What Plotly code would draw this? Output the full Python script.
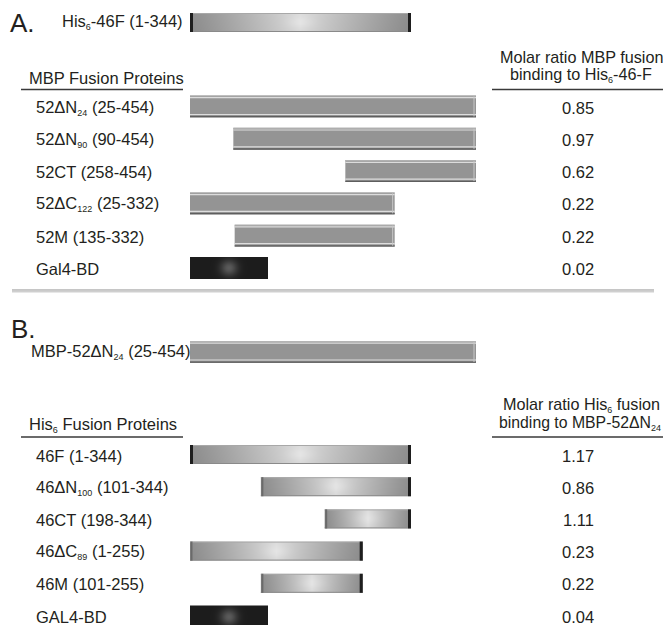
import numpy as np
import plotly.graph_objects as go

# ---------------- data ----------------
def sub(s):
    return f"<sub><span style='font-size:9px'>{s}</span></sub>"

# Panel A: bait and MBP fusion proteins (drawn on the 52 residue scale)
a_bait_label = f"His{sub('6')}-46F (1-344)"
a_bait_start, a_bait_end = 1, 344            # 46 residue scale

mbp_labels = [f"52ΔN{sub('24')} (25-454)", f"52ΔN{sub('90')} (90-454)", "52CT (258-454)",
              f"52ΔC{sub('122')} (25-332)", "52M (135-332)", "Gal4-BD"]
mbp_start = [25, 90, 258, 25, 92, 25]
mbp_end = [454, 454, 454, 332, 332, 142]
mbp_ratio = [0.85, 0.97, 0.62, 0.22, 0.22, 0.02]

# Panel B: bait and His6 fusion proteins (drawn on the 46 residue scale)
b_bait_label = f"MBP-52ΔN{sub('24')} (25-454)"
b_bait_start, b_bait_end = 25, 454           # 52 residue scale

his_labels = ["46F (1-344)", f"46ΔN{sub('100')} (101-344)", "46CT (198-344)",
              f"46ΔC{sub('89')} (1-255)", "46M (101-255)", "GAL4-BD"]
his_start = [1, 111, 210, 1, 111, 1]
his_end = [344, 344, 344, 269, 269, 122]
his_ratio = [1.17, 0.86, 1.11, 0.23, 0.22, 0.04]

a_left_header = "MBP Fusion Proteins"
a_right_header = ["Molar ratio MBP fusion", f"binding to His{sub('6')}-46-F"]
b_left_header = f"His{sub('6')} Fusion Proteins"
b_right_header = [f"Molar ratio His{sub('6')} fusion", f"binding to MBP-52ΔN{sub('24')}"]

# ---------------- layout helpers ----------------
PAGE_W, PAGE_H = 671, 625
OFF = 8                      # default body margin of the html page
W, H = PAGE_W - OFF, PAGE_H - OFF
FONT = "Liberation Sans, Arial, sans-serif"
TXT = "#231f20"
FS = 16.5

# 52 scale: residue 25 -> 190 px, 454 -> 476 px ; 46 scale: 1 -> 190 px, 344 -> 411 px (page px)
k52 = (476 - 190) / (454 - 25)
k46 = (411 - 190) / (344 - 1)
x52_range = [25 + (OFF - 190) / k52, 25 + (OFF + W - 190) / k52]
x46_range = [1 + (OFF - 190) / k46, 1 + (OFF + W - 190) / k46]

A_row0, A_step = 106.5, 32.3
B_row0, B_step = 454.5, 32.2
a_rows = [A_row0 + i * A_step for i in range(len(mbp_labels))]
b_rows = [B_row0 + i * B_step for i in range(len(his_labels))]

fig = go.Figure()
shapes = []
annotations = []


def px(x):
    return (x - OFF) / W


def text(s, xpx, ypx, size=FS, anchor="left"):
    annotations.append(dict(text=s, x=px(xpx), xref="paper", y=ypx, yref="y",
                            xanchor=anchor, yanchor="middle", showarrow=False,
                            font=dict(family=FONT, size=size, color=TXT)))


def hline(x0, x1, y, color, width, xref="paper"):
    shapes.append(dict(type="line", xref=xref, yref="y", x0=x0, x1=x1, y0=y, y1=y,
                       line=dict(color=color, width=width)))


def vline(x, y0, y1, color, width, xref):
    shapes.append(dict(type="line", xref=xref, yref="y", x0=x, x1=x, y0=y0, y1=y1,
                       line=dict(color=color, width=width)))


GRAY = [[0, "rgb(0,0,0)"], [1, "rgb(255,255,255)"]]


def gradient_bar(x0, x1, yc, h, axis, k, dark_left):
    w_px = (x1 - x0) * k
    nx = max(int(round(w_px)), 2)
    ny = int(round(h))
    xe = np.linspace(x0, x1, nx + 1)
    ye = np.linspace(yc - h / 2, yc + h / 2, ny + 1)
    tx = (np.arange(nx) + 0.5) / nx
    ty = (np.arange(ny) + 0.5) / ny
    TX, TY = np.meshgrid(tx, ty)
    z = 140 + 78 * (1 - np.abs(2 * TX - 1)) ** 1.1
    z = z + 10 * np.exp(-((TX - 0.5) * w_px / 14) ** 2 - ((TY - 0.5) * h / 6) ** 2)
    z = z - 4 * (TY - 0.5)
    fig.add_trace(go.Heatmap(x=xe, y=ye, z=z, xaxis=axis, yaxis="y", colorscale=GRAY,
                             zmin=0, zmax=255, showscale=False, hoverinfo="skip"))
    hline(x0, x1, yc - h / 2 + 0.5, "#a8a8a8", 1, xref=axis)
    hline(x0, x1, yc + h / 2 - 0.5, "#8a8a8a", 1, xref=axis)
    vline(x0 + 1.5 / k, yc - h / 2, yc + h / 2, "#1e1e1e" if dark_left else "#6a6a6a",
          3 if dark_left else 2, axis)
    vline(x1 - 1.5 / k, yc - h / 2, yc + h / 2, "#1e1e1e", 3, axis)


def gal4_bar(x0, x1, yc, h, axis, k):
    w_px = (x1 - x0) * k
    nx = max(int(round(w_px)), 2)
    ny = int(round(h))
    xe = np.linspace(x0, x1, nx + 1)
    ye = np.linspace(yc - h / 2, yc + h / 2, ny + 1)
    dx = (np.arange(nx) + 0.5) - nx / 2
    dy = (np.arange(ny) + 0.5) - ny / 2
    DX, DY = np.meshgrid(dx, dy)
    z = 28 + 62 * np.exp(-(DX / 8.5) ** 2 - (DY / 8) ** 2)
    fig.add_trace(go.Heatmap(x=xe, y=ye, z=z, xaxis=axis, yaxis="y", colorscale=GRAY,
                             zmin=0, zmax=255, showscale=False, hoverinfo="skip"))


def mbp_bars(starts, ends, rows, h):
    fig.add_trace(go.Bar(orientation="h", y=rows, base=starts,
                         x=[e - s for s, e in zip(starts, ends)], width=h,
                         marker=dict(color="#949494", line=dict(width=0)),
                         xaxis="x", yaxis="y", hoverinfo="skip"))
    for s, e, yc in zip(starts, ends, rows):
        hline(s, e, yc - h / 2 + 0.5, "#b4b4b4", 1, xref="x")
        hline(s, e, yc - h / 2 + 2.2, "#dcdcdc", 1.2, xref="x")
        hline(s, e, yc + h / 2 - 3.0, "#dedede", 1.2, xref="x")
        hline(s, e, yc + h / 2 - 0.8, "#5e5e5e", 1.3, xref="x")
        vline(e - 2 / k52, yc - h / 2 + 1, yc + h / 2 - 1, "#c8c8c8", 1, "x")


# ---------------- Panel A ----------------
text("A.", 8, 23, size=26)
text(a_bait_label, 60, 21.5)
gradient_bar(a_bait_start, a_bait_end, 22.5, 19, "x2", k46, True)

text(a_left_header, 27, 77.5)
hline(px(21), px(183), 89.5, "#3a3a3a", 1.3)
text(a_right_header[0], 581, 57, size=16.2, anchor="center")
text(a_right_header[1], 581, 75, size=16.2, anchor="center")
hline(px(492), px(668), 89.5, "#3a3a3a", 1.3)

reg = [i for i, l in enumerate(mbp_labels) if not l.lower().startswith("gal4")]
mbp_bars([mbp_start[i] for i in reg], [mbp_end[i] for i in reg], [a_rows[i] for i in reg], 22)
for i, lab in enumerate(mbp_labels):
    text(lab, 34, a_rows[i] + 1)
    text(f"{mbp_ratio[i]:.2f}", 578, a_rows[i] + 1, anchor="center")
    if lab.lower().startswith("gal4"):
        gal4_bar(mbp_start[i], mbp_end[i], a_rows[i], 22, "x", k52)

# separator
hline(px(12), px(654), 290, "#8c8c8c", 1)
hline(px(12), px(654), 291.6, "#cfcfcf", 2)

# ---------------- Panel B ----------------
text("B.", 9, 329, size=26)
text(b_bait_label, 28.5, 351.5)
mbp_bars([b_bait_start], [b_bait_end], [352], 22)

text(b_left_header, 27, 425)
hline(px(21), px(183), 437, "#3a3a3a", 1.3)
text(b_right_header[0], 581, 405, size=16.2, anchor="center")
text(b_right_header[1], 580, 423.5, size=15.8, anchor="center")
hline(px(492), px(668), 437, "#3a3a3a", 1.3)

for i, lab in enumerate(his_labels):
    text(lab, 34, b_rows[i] + 1)
    text(f"{his_ratio[i]:.2f}", 578, b_rows[i] + 1, anchor="center")
    if lab.lower().startswith("gal4"):
        gal4_bar(his_start[i], his_end[i], b_rows[i] + 1, 22, "x2", k46)
    else:
        gradient_bar(his_start[i], his_end[i], b_rows[i], 19, "x2", k46,
                     his_start[i] == 1 and his_end[i] == 344)

fig.update_layout(
    width=W, height=H, margin=dict(l=0, r=0, t=0, b=0),
    paper_bgcolor="white", plot_bgcolor="white", showlegend=False,
    barmode="overlay",
    xaxis=dict(range=x52_range, visible=False, fixedrange=True, domain=[0, 1]),
    xaxis2=dict(range=x46_range, visible=False, fixedrange=True, overlaying="x",
                anchor="y", domain=[0, 1]),
    yaxis=dict(range=[OFF + H, OFF], visible=False, fixedrange=True, domain=[0, 1]),
    shapes=shapes, annotations=annotations,
)
fig.write_html("out.html")
